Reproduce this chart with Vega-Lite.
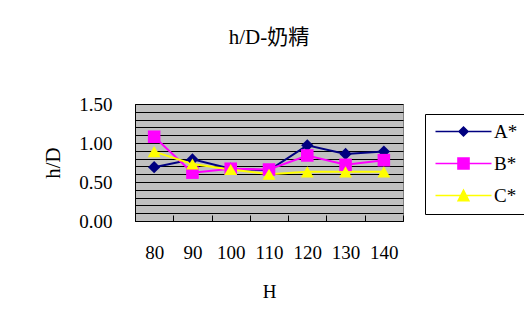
{
  "$schema": "https://vega.github.io/schema/vega-lite/v6.json",
  "width": 268,
  "height": 117,
  "autosize": {"type": "none"},
  "padding": {"left": 135, "top": 104, "right": 121, "bottom": 102},
  "background": "white",
  "title": {
    "text": "h/D-奶精",
    "font": "Liberation Serif, Noto Sans CJK TC",
    "fontSize": 21,
    "fontWeight": "normal",
    "color": "black",
    "anchor": "middle",
    "frame": "group",
    "baseline": "alphabetic",
    "offset": 30
  },
  "data": {
    "values": [
      {"H": 80, "series": "A*", "hD": 0.69},
      {"H": 90, "series": "A*", "hD": 0.79},
      {"H": 100, "series": "A*", "hD": 0.67},
      {"H": 110, "series": "A*", "hD": 0.65},
      {"H": 120, "series": "A*", "hD": 0.97},
      {"H": 130, "series": "A*", "hD": 0.86},
      {"H": 140, "series": "A*", "hD": 0.89},
      {"H": 80, "series": "B*", "hD": 1.08},
      {"H": 90, "series": "B*", "hD": 0.62},
      {"H": 100, "series": "B*", "hD": 0.67},
      {"H": 110, "series": "B*", "hD": 0.66},
      {"H": 120, "series": "B*", "hD": 0.84},
      {"H": 130, "series": "B*", "hD": 0.72},
      {"H": 140, "series": "B*", "hD": 0.78},
      {"H": 80, "series": "C*", "hD": 0.89},
      {"H": 90, "series": "C*", "hD": 0.73},
      {"H": 100, "series": "C*", "hD": 0.66},
      {"H": 110, "series": "C*", "hD": 0.60},
      {"H": 120, "series": "C*", "hD": 0.63},
      {"H": 130, "series": "C*", "hD": 0.63},
      {"H": 140, "series": "C*", "hD": 0.63}
    ]
  },
  "encoding": {
    "x": {
      "field": "H",
      "type": "ordinal",
      "scale": {"type": "band", "paddingInner": 0, "paddingOuter": 0},
      "axis": {
        "title": "H",
        "labelAngle": 0,
        "tickBand": "extent",
        "tickSize": -6,
        "tickColor": "black",
        "domainColor": "black",
        "labelPadding": 28,
        "titlePadding": 20
      }
    },
    "y": {
      "field": "hD",
      "type": "quantitative",
      "scale": {"domain": [0, 1.5], "nice": false, "zero": true},
      "axis": {
        "title": "h/D",
        "titleFontSize": 21,
        "values": [0, 0.1, 0.2, 0.3, 0.4, 0.5, 0.6, 0.7, 0.8, 0.9, 1.0, 1.1, 1.2, 1.3, 1.4, 1.5],
        "labelExpr": "abs(datum.value * 2 - round(datum.value * 2)) < 0.001 ? format(datum.value, '.2f') : ''",
        "grid": true,
        "gridColor": "black",
        "gridOpacity": 1,
        "gridWidth": 1,
        "tickSize": -6,
        "tickColor": "black",
        "tickOpacity": {"condition": {"test": "abs(datum.value * 2 - round(datum.value * 2)) < 0.001", "value": 1}, "value": 0},
        "domainColor": "black",
        "labelPadding": 29,
        "titlePadding": 15
      }
    }
  },
  "layer": [
    {
      "mark": {"type": "line", "strokeWidth": 2},
      "encoding": {
        "color": {
          "field": "series",
          "type": "nominal",
          "scale": {"domain": ["A*", "B*", "C*"], "range": ["#000080", "#FF00FF", "#FFFF00"]},
          "legend": null
        }
      }
    },
    {
      "mark": {"type": "point", "filled": true, "opacity": 1},
      "encoding": {
        "color": {
          "field": "series",
          "type": "nominal",
          "scale": {"domain": ["A*", "B*", "C*"], "range": ["#000080", "#FF00FF", "#FFFF00"]},
          "legend": null
        },
        "shape": {
          "field": "series",
          "type": "nominal",
          "scale": {"domain": ["A*", "B*", "C*"], "range": ["diamond", "square", "triangle-up"]},
          "legend": null
        },
        "size": {
          "field": "series",
          "type": "nominal",
          "scale": {"domain": ["A*", "B*", "C*"], "range": [150, 165, 200]},
          "legend": null
        }
      }
    },
    {
      "transform": [{"filter": "false"}],
      "mark": {"type": "point", "filled": true, "opacity": 1},
      "encoding": {
        "fill": {
          "field": "series",
          "type": "nominal",
          "scale": {"domain": ["A*", "B*", "C*"], "range": ["#000080", "#FF00FF", "#FFFF00"]},
          "legend": {
            "title": null,
            "orient": "none",
            "legendX": 290,
            "legendY": 10,
            "strokeColor": "black",
            "padding": 8,
            "rowPadding": 12,
            "symbolSize": 196,
            "symbolStrokeWidth": 0,
            "labelFont": "Liberation Serif",
            "labelFontSize": 19,
            "labelColor": "black",
            "labelOffset": 42
          }
        },
        "shape": {
          "field": "series",
          "type": "nominal",
          "scale": {
            "domain": ["A*", "B*", "C*"],
            "range": [
              "M-1,-0.12H7V0.12H-1Z M3,-0.8L3.8,0L3,0.8L2.2,0Z",
              "M-1,-0.12H7V0.12H-1Z M2.1,-0.9H3.9V0.9H2.1Z",
              "M-1,-0.12H7V0.12H-1Z M3,-1L3.95,0.85H2.05Z"
            ]
          },
          "legend": {
            "title": null,
            "orient": "none",
            "legendX": 290,
            "legendY": 10,
            "strokeColor": "black",
            "padding": 8,
            "rowPadding": 12,
            "symbolSize": 196,
            "symbolStrokeWidth": 0,
            "labelFont": "Liberation Serif",
            "labelFontSize": 19,
            "labelColor": "black",
            "labelOffset": 42
          }
        }
      }
    }
  ],
  "resolve": {"scale": {"shape": "independent", "fill": "independent", "size": "independent"}},
  "config": {
    "font": "Liberation Serif",
    "view": {"fill": "#C0C0C0", "stroke": "#808080", "strokeWidth": 1},
    "axis": {
      "labelFont": "Liberation Serif",
      "labelFontSize": 19,
      "labelColor": "black",
      "titleFont": "Liberation Serif",
      "titleFontSize": 19,
      "titleFontWeight": "normal",
      "titleColor": "black",
      "domainWidth": 1
    }
  }
}
